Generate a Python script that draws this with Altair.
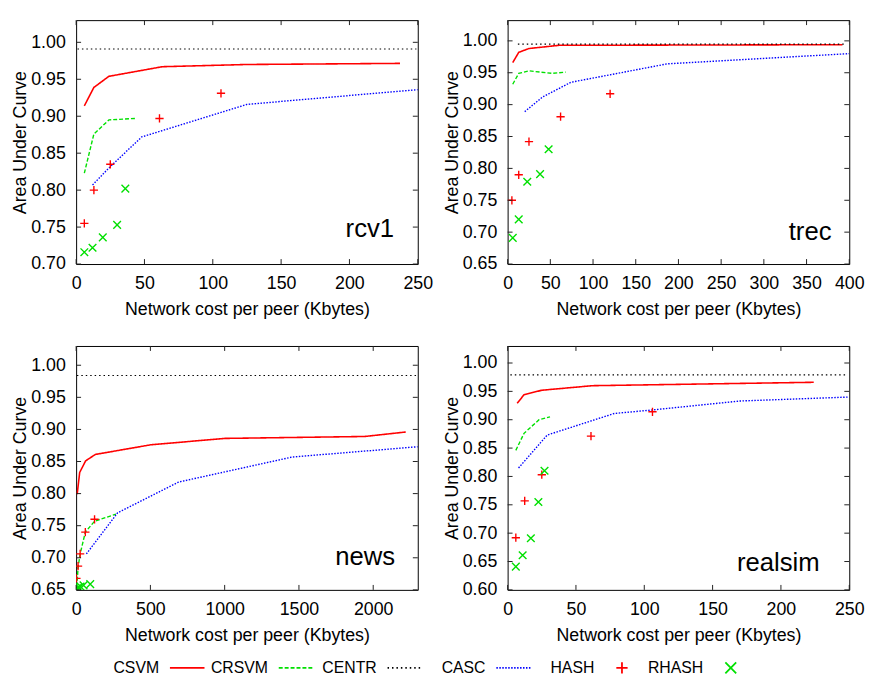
import altair as alt
import pandas as pd

FONT = "Liberation Sans"
W, H = 346, 247

SERIES = ["CSVM", "CRSVM", "CENTR", "CASC", "HASH", "RHASH"]
X_TITLE = "Network cost per peer (Kbytes)"
Y_TITLE = "Area Under Curve"

# ---------------- rcv1 ----------------
rcv1_csvm_x = [6, 13, 24, 63, 125, 237]
rcv1_csvm_y = [0.914, 0.939, 0.954, 0.967, 0.970, 0.9715]
rcv1_crsvm_x = [6, 13, 24, 43]
rcv1_crsvm_y = [0.823, 0.876, 0.895, 0.897]
rcv1_centr_x = [1, 249]
rcv1_centr_y = [0.991, 0.991]
rcv1_casc_x = [12, 24, 48, 125, 250]
rcv1_casc_y = [0.807, 0.830, 0.872, 0.916, 0.936]
rcv1_hash_x = [6, 13, 25, 61, 106]
rcv1_hash_y = [0.755, 0.800, 0.835, 0.897, 0.931]
rcv1_rhash_x = [6, 12, 19.5, 30, 36]
rcv1_rhash_y = [0.716, 0.722, 0.736, 0.753, 0.802]

# ---------------- trec ----------------
trec_csvm_x = [6, 13, 25, 60, 392]
trec_csvm_y = [0.966, 0.982, 0.988, 0.993, 0.994]
trec_crsvm_x = [6, 13, 25, 52, 68]
trec_crsvm_y = [0.932, 0.949, 0.953, 0.949, 0.951]
trec_centr_x = [12, 395]
trec_centr_y = [0.995, 0.995]
trec_casc_x = [20, 41, 74, 187, 400]
trec_casc_y = [0.889, 0.912, 0.935, 0.964, 0.980]
trec_hash_x = [5, 13, 25, 62, 120]
trec_hash_y = [0.750, 0.790, 0.842, 0.881, 0.917]
trec_rhash_x = [6, 13, 23, 38, 48]
trec_rhash_y = [0.691, 0.720, 0.779, 0.791, 0.830]

# ---------------- news ----------------
news_csvm_x = [7, 24, 64, 129, 501, 1000, 1942, 2219]
news_csvm_y = [0.799, 0.833, 0.851, 0.861, 0.876, 0.886, 0.889, 0.896]
news_crsvm_x = [5, 13, 27, 62, 124, 268]
news_crsvm_y = [0.655, 0.685, 0.706, 0.740, 0.757, 0.768]
news_centr_x = [5, 2290]
news_centr_y = [0.984, 0.984]
news_casc_x = [69, 279, 690, 1455, 2300]
news_casc_y = [0.706, 0.770, 0.818, 0.857, 0.873]
news_hash_x = [2, 13, 27, 62, 124]
news_hash_y = [0.668, 0.687, 0.706, 0.740, 0.760]
news_rhash_x = [3, 15, 30, 50, 95]
news_rhash_y = [0.652, 0.654, 0.655, 0.657, 0.659]

# ---------------- realsim ----------------
realsim_csvm_x = [7, 12, 25, 62, 224]
realsim_csvm_y = [0.929, 0.944, 0.952, 0.960, 0.966]
realsim_crsvm_x = [6, 12, 23, 31]
realsim_crsvm_y = [0.846, 0.876, 0.900, 0.905]
realsim_centr_x = [2, 248]
realsim_centr_y = [0.979, 0.979]
realsim_casc_x = [8, 29, 78, 105, 170, 250]
realsim_casc_y = [0.815, 0.873, 0.911, 0.917, 0.933, 0.940]
realsim_hash_x = [6, 12.5, 25, 61, 106]
realsim_hash_y = [0.692, 0.757, 0.803, 0.871, 0.914]
realsim_rhash_x = [6, 11, 17, 22.5, 27]
realsim_rhash_y = [0.641, 0.661, 0.691, 0.755, 0.810]

# axis domains / ticks
rcv1_xticks = [0, 50, 100, 150, 200, 250]
rcv1_yticks = [0.70, 0.75, 0.80, 0.85, 0.90, 0.95, 1.00]
trec_xticks = [0, 50, 100, 150, 200, 250, 300, 350, 400]
trec_yticks = [0.65, 0.70, 0.75, 0.80, 0.85, 0.90, 0.95, 1.00]
news_xticks = [0, 500, 1000, 1500, 2000]
news_yticks = [0.65, 0.70, 0.75, 0.80, 0.85, 0.90, 0.95, 1.00]
realsim_xticks = [0, 50, 100, 150, 200, 250]
realsim_yticks = [0.60, 0.65, 0.70, 0.75, 0.80, 0.85, 0.90, 0.95, 1.00]

PLUS = "M-1,0L1,0M0,-1L0,1"
CROSS = "M-1,-1L1,1M-1,1L1,-1"

STYLE = {
    "CSVM": dict(kind="line", color="#ff0000", dash=[1, 0], width=1.6),
    "CRSVM": dict(kind="line", color="#00e000", dash=[4, 2], width=1.4),
    "CENTR": dict(kind="line", color="#000000", dash=[1.5, 3], width=1.2),
    "CASC": dict(kind="line", color="#0000ff", dash=[1.5, 1.5], width=1.4),
    "HASH": dict(kind="point", color="#ff0000", shape=PLUS, size=70),
    "RHASH": dict(kind="point", color="#00e000", shape=CROSS, size=60),
}


def panel(name, series, xdom, ydom, xticks, yticks, inset, rise, legend=False):
    xs = alt.Scale(domain=xdom, nice=False, zero=False)
    ys = alt.Scale(domain=ydom, nice=False, zero=False)
    common = dict(tickSize=0, ticks=False, domain=False, grid=False,
                  labelFlush=False, labelOverlap=False, labelFont=FONT,
                  titleFont=FONT, labelFontSize=18, titleFontSize=18,
                  labelColor="black", titleColor="black", titleFontWeight="normal")
    xax = alt.Axis(values=xticks, title=X_TITLE, format="d", labelPadding=11,
                   titlePadding=8, **common)
    yax = alt.Axis(values=yticks, title=Y_TITLE, format=".2f", labelPadding=11,
                   titlePadding=1, **common)

    def X(f):
        return alt.X(f, type="quantitative", scale=xs, axis=xax)

    def Y(f):
        return alt.Y(f, type="quantitative", scale=ys, axis=yax)

    layers = []
    for s in SERIES:
        xv, yv = series[s]
        df = pd.DataFrame({"x": xv, "y": yv})
        st = STYLE[s]
        if st["kind"] == "line":
            layers.append(alt.Chart(df).mark_line(
                color=st["color"], strokeDash=st["dash"], strokeWidth=st["width"],
                clip=True).encode(x=X("x"), y=Y("y")))
        else:
            layers.append(alt.Chart(df).mark_point(
                shape=st["shape"], size=st["size"], filled=False, stroke=st["color"],
                strokeWidth=1.4, opacity=1, clip=True).encode(x=X("x"), y=Y("y")))

    ydf = pd.DataFrame({"v": yticks})
    xdf = pd.DataFrame({"v": xticks})
    tk = dict(color="#222222", strokeWidth=1)
    layers.append(alt.Chart(ydf).mark_rule(**tk).encode(
        y=Y("v"), x=alt.value(0), x2=alt.value(5)))
    layers.append(alt.Chart(ydf).mark_rule(**tk).encode(
        y=Y("v"), x=alt.value(W - 5), x2=alt.value(W)))
    layers.append(alt.Chart(xdf).mark_rule(**tk).encode(
        x=X("v"), y=alt.value(H - 5), y2=alt.value(H)))
    layers.append(alt.Chart(xdf).mark_rule(**tk).encode(
        x=X("v"), y=alt.value(0), y2=alt.value(5)))

    ldf = pd.DataFrame({"label": [name]})
    layers.append(alt.Chart(ldf).mark_text(
        align="right", baseline="alphabetic", fontSize=26, font=FONT, color="black"
    ).encode(x=alt.value(W - inset), y=alt.value(H - rise), text="label:N"))

    base = alt.layer(*layers)

    if legend:
        LEG_Y = 326
        leg_df = pd.DataFrame({"name": SERIES})
        lx = alt.X("name:N", scale=alt.Scale(type="point", domain=SERIES,
                                             range=[84, 635], padding=0), axis=None)
        leg = [alt.Chart(leg_df).mark_text(
            align="right", baseline="middle", fontSize=16, font=FONT, color="black"
        ).encode(x=lx, y=alt.value(LEG_Y), text="name:N")]
        for s in SERIES:
            st = STYLE[s]
            c = alt.Chart(leg_df).transform_filter(alt.datum.name == s)
            if st["kind"] == "line":
                leg.append(c.mark_rule(color=st["color"], strokeDash=st["dash"],
                                       strokeWidth=st["width"] + 0.4, xOffset=11,
                                       x2Offset=46).encode(
                    x=lx, x2=alt.X2("name"), y=alt.value(LEG_Y)))
            else:
                leg.append(c.mark_point(shape=st["shape"], size=st["size"] + 60,
                                        filled=False, stroke=st["color"],
                                        strokeWidth=1.8, opacity=1, xOffset=28).encode(
                    x=lx, y=alt.value(LEG_Y)))
        base = alt.layer(base, *leg).resolve_scale(x="independent")

    return base.properties(width=W, height=H)


def S(prefix):
    g = globals()
    return {
        "CSVM": (g[prefix + "_csvm_x"], g[prefix + "_csvm_y"]),
        "CRSVM": (g[prefix + "_crsvm_x"], g[prefix + "_crsvm_y"]),
        "CENTR": (g[prefix + "_centr_x"], g[prefix + "_centr_y"]),
        "CASC": (g[prefix + "_casc_x"], g[prefix + "_casc_y"]),
        "HASH": (g[prefix + "_hash_x"], g[prefix + "_hash_y"]),
        "RHASH": (g[prefix + "_rhash_x"], g[prefix + "_rhash_y"]),
    }


p1 = panel("rcv1", S("rcv1"), [0, 250], [0.70, 1.03], rcv1_xticks, rcv1_yticks, 24, 27)
p2 = panel("trec", S("trec"), [0, 400], [0.65, 1.0325], trec_xticks, trec_yticks, 18, 24)
p3 = panel("news", S("news"), [0, 2300], [0.65, 1.03], news_xticks, news_yticks, 23, 25,
           legend=True)
p4 = panel("realsim", S("realsim"), [0, 250], [0.60, 1.03], realsim_xticks,
           realsim_yticks, 30, 19)

chart = alt.concat(p1, p2, p3, p4, columns=2, spacing={"row": 83, "column": 91},
                   bounds="flush").properties(
    padding={"left": 3, "top": 7, "right": 5, "bottom": 0},
    background="white",
).configure_view(stroke="black", strokeWidth=1).configure_axis(
    labelFont=FONT, titleFont=FONT, labelFontSize=18, titleFontSize=18,
    labelColor="black", titleColor="black", titleFontWeight="normal"
)

chart.save("out.html", embed_options={"renderer": "svg", "actions": False})
